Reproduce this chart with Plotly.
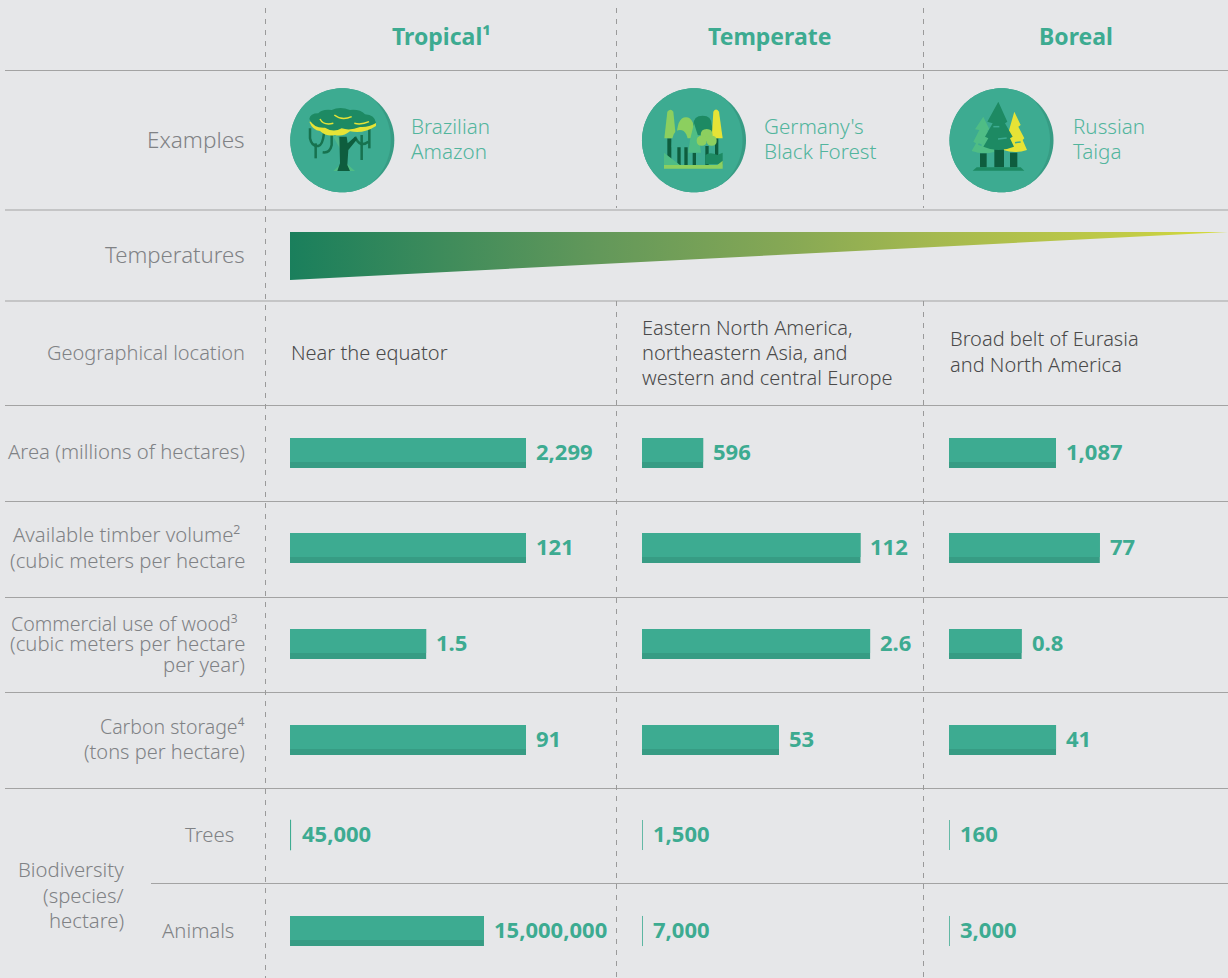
import re
import numpy as np
import plotly.graph_objects as go

W, H = 1228, 978
BG = "#e6e7e9"
TEAL = "#3dab91"
TEAL_DARK = "#379c84"
TEAL_TEXT = "#52b59d"
GREY = "#808285"
BODY = "#4a4a4a"
RULE = "#a3a3a3"
FONT = "Noto Sans"

# ---------- data ----------
BIOMES = ["Tropical¹", "Temperate", "Boreal"]
EXAMPLES = [["Brazilian", "Amazon"], ["Germany's", "Black Forest"], ["Russian", "Taiga"]]
LOCATIONS = [["Near the equator"],
             ["Eastern North America,", "northeastern Asia, and", "western and central Europe"],
             ["Broad belt of Eurasia", "and North America"]]
METRICS = ["area", "timber", "wood", "carbon", "trees", "animals"]
AREA = [2299, 596, 1087]
TIMBER = [121, 112, 77]
WOOD = [1.5, 2.6, 0.8]
CARBON = [91, 53, 41]
TREES = [45000, 1500, 160]
ANIMALS = [15000000, 7000, 3000]
VALUES = [AREA, TIMBER, WOOD, CARBON, TREES, ANIMALS]
VALUE_LABELS = [["2,299", "596", "1,087"], ["121", "112", "77"], ["1.5", "2.6", "0.8"],
                ["91", "53", "41"], ["45,000", "1,500", "160"], ["15,000,000", "7,000", "3,000"]]
# value that fills the 236 px cell width, per metric and biome
CELL_SCALE = [[2299, 2300, 2398], [121, 121, 120.5], [2.6, 2.69, 2.6],
              [91, 91.3, 90.4], [18250000, 18250000, 18250000], [18250000, 18250000, 18250000]]

# ---------- layout constants ----------
COL_X = [290, 642, 949]
COL_HEAD_X = [441, 769, 1076]
CELL_W = 236
ROW_Y = [453, 548, 644, 740, 835, 931]
BAR_H, STRIP = 30, 6

fig = go.Figure()
layout_axes = {}
annotations = []
shapes = []


def text(x, y, s, size=20.3, color=GREY, anchor="right", bold=False, xref="x", xshift=0, yshift=0):
    pad = {"right": 2, "left": -2, "center": 0}[anchor]
    annotations.append(dict(x=x, y=y, xref=xref, yref="y", text=s, showarrow=False,
                            xanchor=anchor, yanchor="middle", xshift=xshift + pad, yshift=yshift,
                            font=dict(family=FONT, size=size, color=color,
                                      weight=700 if bold else 300)))


# wedge of temperatures
fig.add_trace(go.Scatter(x=[290, 1228, 290, 290], y=[232, 232, 280, 232], mode="lines",
                         line=dict(width=0), fill="toself", hoverinfo="skip", showlegend=False,
                         fillgradient=dict(type="horizontal",
                                           colorscale=[[0, "#1a7f5c"], [0.33, "#63985a"], [0.52, "#84a755"],
                                                       [0.69, "#a5b94f"], [0.9, "#c2cc46"], [1, "#d6dc3a"]]),
                         xaxis="x", yaxis="y"))

# bars, every cell with its own value axis
n = 2
for r, name in enumerate(METRICS):
    for c in range(3):
        ax = f"x{n}"
        layout_axes[f"xaxis{n}"] = dict(domain=[COL_X[c] / W, (COL_X[c] + CELL_W) / W],
                                        range=[0, CELL_SCALE[r][c]], anchor="y", visible=False,
                                        fixedrange=True)
        v = VALUES[r][c]
        thin = v / CELL_SCALE[r][c] * CELL_W < 2
        fig.add_trace(go.Bar(x=[v], y=[ROW_Y[r]], width=BAR_H, orientation="h", xaxis=ax, yaxis="y",
                             marker=dict(color=TEAL_DARK if not thin else TEAL,
                                         line=dict(width=1 if thin else 0, color=TEAL)),
                             showlegend=False, name=name, hoverinfo="skip"))
        if not thin:
            fig.add_trace(go.Bar(x=[v], y=[ROW_Y[r] - STRIP / 2], width=BAR_H - STRIP, orientation="h",
                                 xaxis=ax, yaxis="y", marker=dict(color=TEAL, line=dict(width=0)),
                                 showlegend=False, name=name, hoverinfo="skip"))
        text(v, ROW_Y[r], VALUE_LABELS[r][c], size=22, color=TEAL, anchor="left", bold=True,
             xref=ax, xshift=10 if not thin else 11, yshift=2)
        n += 1

# rules
for y in [70.5, 210, 301, 405.5, 501.5, 597.5, 692.5, 788.5]:
    shapes.append(dict(type="line", xref="x", yref="y", x0=5, x1=W, y0=y, y1=y,
                       line=dict(color=RULE, width=1), layer="below"))
shapes.append(dict(type="line", xref="x", yref="y", x0=151, x1=W, y0=883.5, y1=883.5,
                   line=dict(color=RULE, width=1), layer="below"))
for x, segs in [(265.5, [(8, 978)]), (616.5, [(8, 208), (301, 978)]), (923.5, [(8, 208), (301, 978)])]:
    for y0, y1 in segs:
        shapes.append(dict(type="line", xref="x", yref="y", x0=x, x1=x, y0=y0, y1=y1,
                           line=dict(color="#9a9a9a", width=1, dash="5px,6px"), layer="below"))


# ---------- icons ----------
def pts(points):
    return "M " + " L ".join(f"{a:.2f},{b:.2f}" for a, b in points) + " Z"


def disc(cx, cy, r, d=0.0, R=None):
    a = np.linspace(0, 2 * np.pi, 121)[:-1]
    if R is None:
        rad = np.full_like(a, r)
    else:
        rad = np.minimum(r, -d * np.cos(a) + np.sqrt(R * R - (d * np.sin(a)) ** 2))
    return pts(zip(cx + rad * np.cos(a), cy + rad * np.sin(a)))


def crop(path, ox, oy):
    """Path written in 3x crop coordinates, moved to page pixels."""
    out, i = [], 0
    for tok in re.findall(r"[A-Za-z]|-?\d+\.?\d*", path):
        if tok.isalpha():
            out.append(tok)
        else:
            out.append(f"{(ox if i % 2 == 0 else oy) + float(tok) / 3:.2f}")
            i += 1
    return " ".join(out)


def fill(path, color, o):
    shapes.append(dict(type="path", xref="x", yref="y", path=crop(path, *o), fillcolor=color,
                       line=dict(width=0), layer="above"))


def stroke(path, color, o, w=2):
    shapes.append(dict(type="path", xref="x", yref="y", path=crop(path, *o), fillcolor="rgba(0,0,0,0)",
                       line=dict(width=w, color=color), layer="above"))


def circ_path(cx, cy, r):
    return f"M {cx-r} {cy} Q {cx-r} {cy-r} {cx} {cy-r} Q {cx+r} {cy-r} {cx+r} {cy} Q {cx+r} {cy+r} {cx} {cy+r} Q {cx-r} {cy+r} {cx-r} {cy} Z"


for cx in [342.3, 694, 1001.5]:
    shapes.append(dict(type="path", xref="x", yref="y", path=disc(cx, 140.3, 52), fillcolor=TEAL_DARK,
                       line=dict(width=0), layer="above"))
    shapes.append(dict(type="path", xref="x", yref="y", path=disc(cx, 140.3, 52, d=9, R=57.5),
                       fillcolor=TEAL, line=dict(width=0), layer="above"))

DK, MID, YEL, PALE, LG = "#0e5d3e", "#1d8a63", "#e6e336", "#8ccf5f", "#4fbd85"

# tropical
o = (300, 95)
fill("M 100 228 L 122 208 L 142 208 L 165 228 Z", LG, o)
fill("M 100 125 L 110 120 L 135 165 L 122 165 Z", "#52b88a", o)
for p in ["M 30 100 L 30 130 Q 35 155 55 153 Q 68 150 72 115", "M 47 145 L 47 190",
          "M 95 120 L 95 150 Q 90 175 68 172", "M 208 100 L 208 160", "M 185 120 L 185 195",
          "M 165 125 Q 180 160 205 140"]:
    stroke(p, "#17724f", o, 2.5)
fill("M 118 125 L 140 125 L 143 145 L 165 125 L 172 132 L 145 165 L 142 210 L 150 228 L 112 228 L 120 205 Z", DK, o)
fill("M 28 80 Q 38 106 60 108 Q 80 126 105 120 Q 130 126 150 109 Q 190 118 228 93 L 228 84 Z", YEL, o)
fill("M 28 72 Q 30 55 55 55 Q 65 42 95 45 Q 120 33 150 45 Q 180 42 195 58 Q 225 60 228 84 Q 205 98 180 96 Q 150 108 125 100 Q 100 114 75 98 Q 40 100 28 72 Z", MID, o)
for p in ["M 60 72 Q 70 92 100 85", "M 103 60 Q 125 78 155 65", "M 163 85 Q 185 90 207 80"]:
    stroke(p, YEL, o, 1.5)

# temperate
o = (630, 70)
for p in ["M 112 205 L 124 205 L 124 285 L 112 285 Z", "M 142 228 L 152 228 L 152 285 L 142 285 Z",
          "M 163 228 L 173 228 L 173 285 L 163 285 Z", "M 188 248 L 198 248 L 198 285 L 188 285 Z",
          "M 226 228 L 236 228 L 236 285 L 226 285 Z", "M 255 205 L 265 205 L 265 280 L 255 280 Z"]:
    fill(p, DK, o)
fill("M 112 125 Q 122 113 130 125 L 138 205 L 103 205 Z", PALE, o)
fill("M 140 205 Q 140 142 168 142 Q 195 142 195 205 Z", PALE, o)
fill("M 125 232 Q 125 180 150 180 Q 175 180 175 232 Z", TEAL, o)
fill("M 190 165 Q 190 137 218 137 Q 245 137 245 165 L 255 195 L 200 195 Z", MID, o)
fill("M 250 125 Q 258 112 267 125 L 278 205 L 245 205 Z", YEL, o)
fill("M 192 160 L 208 210 L 213 248 L 175 248 L 180 210 Z", LG, o)
for cc in [(230, 195, 18), (215, 212, 15), (245, 212, 15)]:
    fill(circ_path(*cc), PALE, o)
fill("M 102 248 L 150 285 L 102 285 Z", LG, o)
fill("M 226 255 Q 240 245 262 255 L 278 248 L 278 283 L 226 283 Z", MID, o)
fill("M 102 285 L 262 285 L 278 272 L 278 296 L 102 296 Z", PALE, o)

# boreal
o = (930, 70)
fill("M 253 125 L 272 165 L 265 170 L 283 205 L 278 210 L 291 240 Q 255 252 220 240 L 253 125 Z", YEL, o)
fill("M 160 140 L 178 178 L 172 182 L 190 215 L 182 220 L 195 245 Q 160 255 125 243 L 138 220 L 130 215 L 148 180 L 135 178 Z", LG, o)
for p in ["M 150 250 L 170 250 L 170 292 L 150 292 Z", "M 240 248 L 262 248 L 262 292 L 240 292 Z",
          "M 193 238 L 222 238 L 222 292 L 193 292 Z"]:
    fill(p, DK, o)
fill("M 140 292 L 272 292 L 283 302 L 128 302 Z", MID, o)
fill("M 205 95 L 232 155 L 225 160 L 248 200 L 240 205 L 252 230 Q 205 250 160 230 L 175 205 L 165 200 L 188 160 L 172 155 Z", MID, o)
for p in ["M 190 170 L 208 170", "M 204 207 L 230 204", "M 255 218 L 272 216", "M 145 222 L 155 226"]:
    stroke(p, TEAL, o, 1.5)

# ---------- text ----------
for c, b in enumerate(BIOMES):
    text(COL_HEAD_X[c], 36, b, size=23, color=TEAL, anchor="center", bold=True)
EX_X = [411, 764, 1073]
LOC_X = [291, 642, 950]
for c in range(3):
    for line, y in zip(EXAMPLES[c], [126, 151]):
        text(EX_X[c], y, line, size=20.6, color=TEAL_TEXT, anchor="left")
LOC_Y = [[352], [327, 352, 377], [338, 364]]
for c in range(3):
    for line, y in zip(LOCATIONS[c], LOC_Y[c]):
        text(LOC_X[c], y, line, size=20, color=BODY, anchor="left")

LEFT = [("Examples", 245, 139, 22.5), ("Temperatures", 245, 254, 22.2), ("Geographical location", 245, 352, 20),
        ("Area (millions of hectares)", 245, 451, 20.3),
        ("Available timber volume²", 240, 534, 20.3), ("(cubic meters per hectare", 245, 560, 20.3),
        ("Commercial use of wood³", 238, 623, 19.6), ("(cubic meters per hectare", 245, 643, 20.3),
        ("per year)", 245, 664, 20.3),
        ("Carbon storage⁴", 245, 726, 19.5), ("(tons per hectare)", 245, 751, 20),
        ("Trees", 234, 834, 20.3), ("Animals", 234, 930, 20.3),
        ("Biodiversity", 124, 869, 20.3), ("(species/", 124, 895, 20.3), ("hectare)", 124, 920, 20.3)]
for s, x, y, size in LEFT:
    text(x, y, s, size=size)

fig.update_layout(
    width=W, height=H, margin=dict(l=0, r=0, t=0, b=0), autosize=False,
    paper_bgcolor=BG, plot_bgcolor="rgba(0,0,0,0)", barmode="overlay", showlegend=False,
    xaxis=dict(domain=[0, 1], range=[0, W], visible=False, fixedrange=True, anchor="y"),
    yaxis=dict(domain=[0, 1], range=[H, 0], visible=False, fixedrange=True, anchor="x"),
    annotations=annotations, shapes=shapes, **layout_axes)

fig.write_html("out.html", config=dict(displayModeBar=False),
               post_script=f"document.body.style.margin='0';document.documentElement.style.background='{BG}';document.body.style.overflow='hidden';")
